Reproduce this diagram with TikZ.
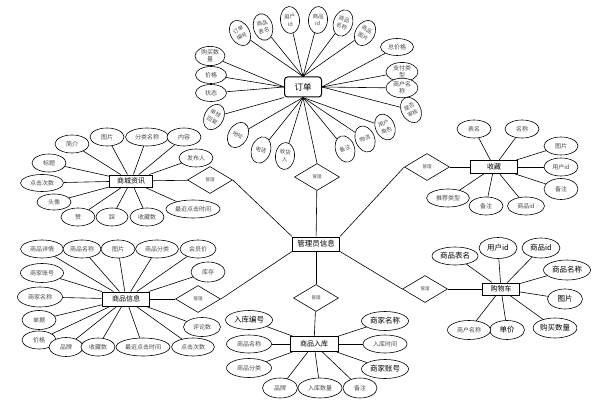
\documentclass[tikz,border=0pt]{standalone}
\usepackage{fontspec}
\setmainfont{Noto Sans CJK SC}
\usepackage{xcolor}
\usepackage{tikz}
\usetikzlibrary{shapes.geometric}
\definecolor{inkgray}{HTML}{4A4A4A}

\begin{document}
\begin{tikzpicture}[x=1pt, y=-1pt,
  ent/.style={draw, line width=1pt, fill=white, minimum width=47pt,
              minimum height=14pt, inner sep=1pt, font=\fontsize{7}{8}\selectfont},
  att/.style={draw, ellipse, line width=0.6pt, fill=white, minimum width=34pt,
              minimum height=18pt, inner sep=0.5pt, text=inkgray, align=center,
              font=\fontsize{6}{7.2}\selectfont},
  attb/.style={att, text=black, font=\fontsize{7.5}{8}\selectfont},
  ov/.style={minimum width=19pt, minimum height=27pt, font=\fontsize{5.5}{7.5}\selectfont},
  wide/.style={minimum width=43pt},
  xwide/.style={minimum width=54pt},
  rel/.style={draw, diamond, line width=0.6pt, fill=white, minimum width=45pt,
              minimum height=27pt, inner sep=0pt, text=inkgray,
              font=\fontsize{4.5}{5}\selectfont},
  lnk/.style={line width=0.6pt}]
\useasboundingbox (0,0) rectangle (612,414);

% order
\node[ent, rounded corners=3pt, minimum width=37pt, minimum height=20pt,
  font=\fontsize{8.5}{9}\selectfont] (ord) at (303,87) {订单};
\node[att, ov, rotate=30] (o1) at (240,33) {订单\\编号};
\node[att, ov, rotate=15] (o2) at (263,27) {商品\\表名};
\node[att, ov, rotate=5] (o3) at (290,20) {用户\\id};
\node[att, ov, rotate=-4] (o4) at (318,20) {商品\\id};
\node[att, ov, rotate=-18] (o5) at (343,23) {商品\\名称};
\node[att, ov, rotate=-30] (o6) at (365,33) {商品\\图片};
\node[att, minimum width=33pt, minimum height=17pt] (o7) at (397,47) {总价格};
\node[att, minimum width=32pt] (o8) at (402,72) {支付类\\型};
\node[att, minimum width=32pt] (o9) at (402,88) {商户名\\称};
\node[att, ov, rotate=28] (o10) at (411,110) {是否\\审核};
\node[att, ov, rotate=24] (o11) at (385,127) {用户\\角色};
\node[att, ov, rotate=22] (o12) at (365,139) {物流};
\node[att, ov, rotate=18] (o13) at (345,149) {备注};
\node[att, ov, rotate=-5] (o14) at (285,156) {收货\\人};
\node[att, ov, rotate=-18] (o15) at (261,150) {电话};
\node[att, ov, rotate=-30] (o16) at (238,135) {地址};
\node[att, ov, rotate=-28] (o17) at (214,117) {审核\\回复};
\node[att, minimum width=31pt, minimum height=17pt] (o18) at (211,93) {状态};
\node[att, minimum width=31pt, minimum height=17pt] (o19) at (211,75) {价格};
\node[att, minimum width=30pt] (o20) at (210,56) {购买数\\量};
\foreach \a in {o1,o2,o3,o4,o5,o6} \draw[lnk] (\a) -- (ord.north);
\foreach \a in {o7,o8,o9,o10} \draw[lnk] (\a) -- (ord.east);
\foreach \a in {o11,o12,o13,o14,o15,o16} \draw[lnk] (\a) -- (ord.south);
\draw[lnk] (o17) -- (ord.south west);
\foreach \a in {o18,o19,o20} \draw[lnk] (\a) -- (ord.west);

% admin and relations
\node[ent, font=\fontsize{7.5}{8}\selectfont] (adm) at (316,244) {管理员信息};
\node[rel] (rOrd) at (317,177) {管理};
\node[rel] (rCol) at (427,167) {管理};
\node[rel] (rNews) at (210,180) {管理};
\node[rel] (rGoods) at (198,299) {管理};
\node[rel] (rInb) at (316,298) {管理};
\node[rel] (rCart) at (425,289) {管理};

% collection
\node[ent, minimum height=13pt] (col) at (494,167) {收藏};
\node[att] (c1) at (474,129) {表名};
\node[att] (c2) at (522,129) {名称};
\node[att] (c3) at (561,146) {图片};
\node[att] (c4) at (561,167) {用户id};
\node[att, minimum height=21pt] (c5) at (561,189) {备注};
\node[att, minimum width=37pt] (c6) at (526,206) {商品id};
\node[att] (c7) at (486,206) {备注};
\node[att, wide] (c8) at (448,198) {推荐类型};
\foreach \a in {c1,c2,c3,c4,c5,c6,c7,c8} \draw[lnk] (\a) -- (col);

% news
\node[ent, minimum width=43pt, minimum height=12pt] (news) at (131,181) {商城资讯};
\node[att] (n1) at (72,144) {简介};
\node[att] (n2) at (107,137) {图片};
\node[att, wide] (n3) at (147,137) {分类名称};
\node[att] (n4) at (184,137) {内容};
\node[att] (n5) at (196,158) {发布人};
\node[att] (n6) at (49,163) {标题};
\node[att, wide, minimum height=17pt] (n7) at (42,183) {点击次数};
\node[att, minimum height=16pt] (n8) at (54,202) {头像};
\node[att] (n9) at (78,217) {赞};
\node[att, minimum width=32pt] (n10) at (112,217) {踩};
\node[att] (n11) at (147,217) {收藏数};
\node[att, xwide] (n12) at (193,209) {最近点击时间};
\foreach \a in {n1,n2,n3,n4,n5,n6,n7,n8,n9,n10,n11,n12} \draw[lnk] (\a) -- (news);

% goods
\node[ent] (goods) at (126,299) {商品信息};
\node[att, wide] (g1) at (42,249) {商品详情};
\node[att, minimum width=38pt] (g2) at (82,249) {商品名称};
\node[att] (g3) at (118,249) {图片};
\node[att, wide] (g4) at (157,249) {商品分类};
\node[att, minimum width=36pt] (g5) at (198,249) {会员价};
\node[att, minimum height=20pt] (g6) at (208,272) {库存};
\node[att, wide, minimum height=19pt] (g7) at (42,273) {商家账号};
\node[att, minimum width=45pt, minimum height=20pt] (g8) at (40,297) {商家名称};
\node[att, minimum height=19pt] (g9) at (39,320) {单据};
\node[att] (g10) at (39,340) {价格};
\node[att, minimum height=19pt] (g11) at (66,347) {品牌};
\node[att] (g12) at (98,347) {收藏数};
\node[att, xwide] (g13) at (143,347) {最近点击时间};
\node[att, wide] (g14) at (193,347) {点击次数};
\node[att, minimum width=37pt, minimum height=19pt] (g15) at (202,327) {评论数};
\foreach \a in {g1,g2,g3,g4,g5,g6,g7,g8,g9,g10,g11,g12,g13,g14,g15}
  \draw[lnk] (\a) -- (goods);

% stock-in
\node[ent, minimum width=48pt, minimum height=15pt] (inb) at (314,344) {商品入库};
\node[attb, minimum width=47pt, minimum height=19pt] (i1) at (249,320) {入库编号};
\node[att, minimum width=45pt] (i2) at (249,344) {商品名称};
\node[att, minimum width=45pt, minimum height=19pt] (i3) at (249,368) {商品分类};
\node[att, minimum width=35pt, minimum height=20pt] (i4) at (280,388) {品牌};
\node[att, minimum width=44pt, minimum height=20pt] (i5) at (320,388) {入库数量};
\node[att, minimum height=20pt] (i6) at (360,388) {备注};
\node[attb, minimum width=47pt, minimum height=19pt] (i7) at (385,321) {商家名称};
\node[att, minimum width=44pt] (i8) at (385,344) {入库时间};
\node[attb, minimum width=47pt, minimum height=19pt] (i9) at (385,369) {商家账号};
\foreach \a in {i1,i2,i3,i4,i5,i6,i7,i8,i9} \draw[lnk] (\a) -- (inb);

% cart
\node[ent, minimum width=37pt, minimum height=12pt] (cart) at (501,289) {购物车};
\node[attb, minimum width=46pt] (k1) at (455,256) {商品表名};
\node[attb, minimum width=38pt, minimum height=21pt] (k2) at (498,248) {用户id};
\node[attb, minimum width=38pt, minimum height=20pt] (k3) at (541,248) {商品id};
\node[attb, minimum width=47pt, minimum height=20pt] (k4) at (567,270) {商品名称};
\node[attb, minimum width=35pt, minimum height=20pt] (k5) at (565,299) {图片};
\node[attb, minimum width=40pt, minimum height=20pt] (k6) at (555,328) {购买数量};
\node[attb, minimum width=35pt, minimum height=19pt] (k7) at (507,330) {单价};
\node[att, minimum width=43pt, minimum height=19pt] (k8) at (469,330) {商户名称};
\foreach \a in {k1,k2,k3,k4,k5,k6,k7,k8} \draw[lnk] (\a) -- (cart);

% relation links
\draw[lnk] (ord.south) -- (rOrd.north);
\draw[lnk] (rOrd) -- (adm);
\draw[lnk] (adm.north east) -- (rCol.west);
\draw[lnk] (rCol) -- (col);
\draw[lnk] (adm.north west) -- (rNews.east);
\draw[lnk] (rNews) -- (news);
\draw[lnk] (adm.south west) -- (rGoods.east);
\draw[lnk] (rGoods) -- (goods);
\draw[lnk] (adm) -- (rInb);
\draw[lnk] (rInb) -- (inb);
\draw[lnk] (adm.south east) -- (rCart.west);
\draw[lnk] (rCart) -- (cart);
\end{tikzpicture}
\end{document}
